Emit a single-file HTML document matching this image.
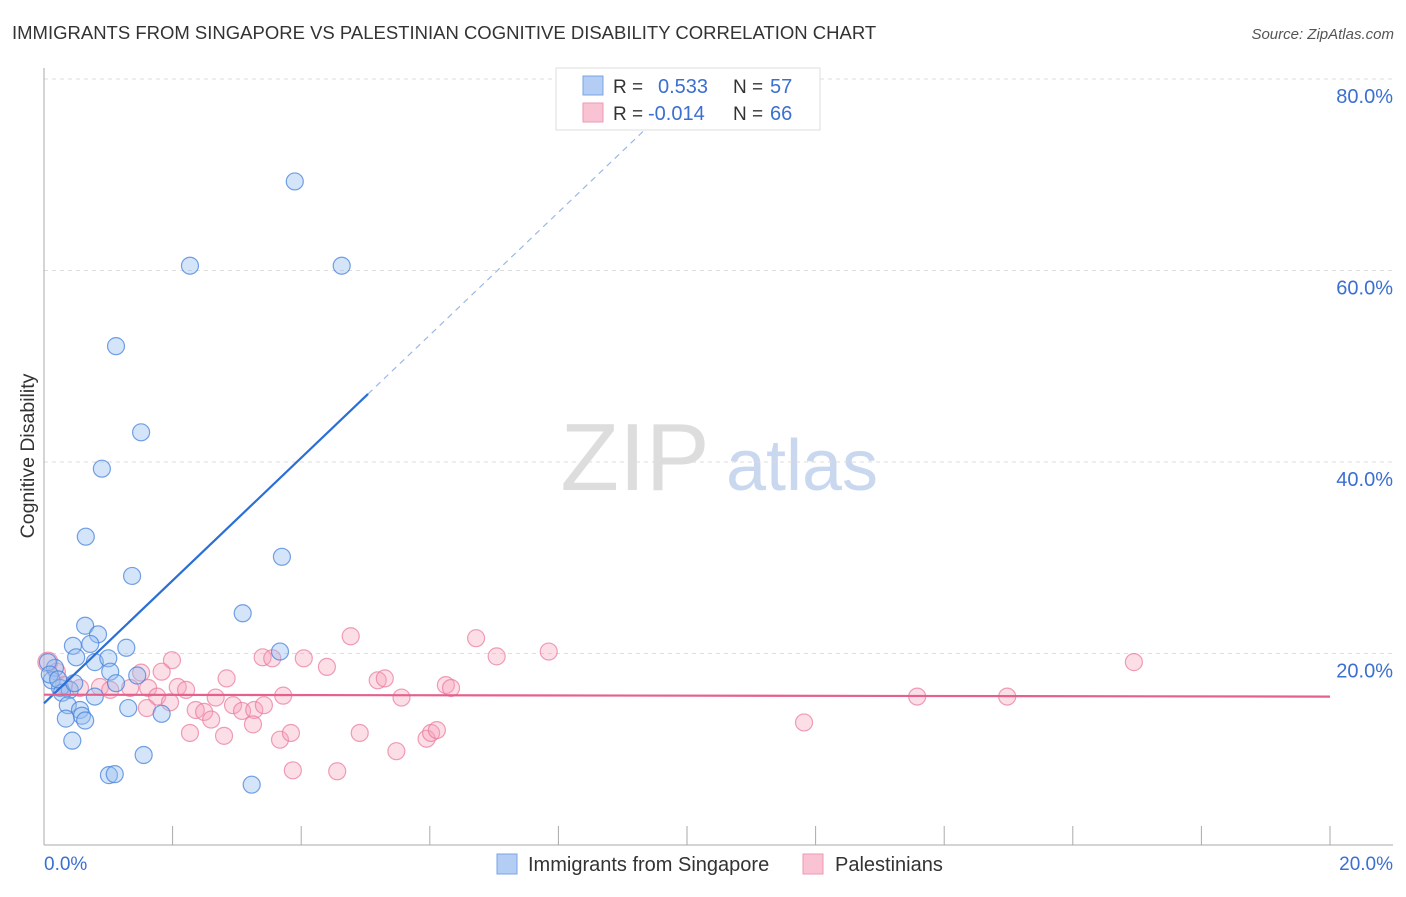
<!DOCTYPE html>
<html><head><meta charset="utf-8"><style>
body{margin:0;background:#fff;font-family:"Liberation Sans",sans-serif;}
svg text{font-family:"Liberation Sans",sans-serif;}
</style></head><body>
<svg id="chart" width="1406" height="892" xmlns="http://www.w3.org/2000/svg">
<text x="12" y="39" font-size="18.5" fill="#333">IMMIGRANTS FROM SINGAPORE VS PALESTINIAN COGNITIVE DISABILITY CORRELATION CHART</text>
<text x="1394" y="39" font-size="15" fill="#555" text-anchor="end" font-style="italic">Source: ZipAtlas.com</text>
<text transform="translate(34,456) rotate(-90)" font-size="19.5" fill="#333" text-anchor="middle">Cognitive Disability</text>
<g>
<text x="635" y="490" font-size="96" fill="#ddd" text-anchor="middle" font-family="Liberation Serif,serif">ZIP</text>
<text x="802" y="490" font-size="72" fill="#c9d8ef" text-anchor="middle">atlas</text>
</g>
<g id="grid"></g><g id="axes"></g><g id="marks"></g>
<g>
<rect x="556" y="68" width="264" height="62" fill="#fff" stroke="#ddd"/>
<rect x="583" y="76" width="20" height="19" fill="#b3cdf4" stroke="#7aa4e4"/>
<rect x="583" y="103" width="20" height="19" fill="#f9c3d3" stroke="#ee9ab3"/>
<text x="613" y="93" font-size="19" fill="#333">R = </text><text x="658" y="93" font-size="20" fill="#3b6fd0">0.533</text>
<text x="733" y="93" font-size="19" fill="#333">N = </text><text x="770" y="93" font-size="20" fill="#3b6fd0">57</text>
<text x="613" y="120" font-size="19" fill="#333">R = </text><text x="648" y="120" font-size="20" fill="#3b6fd0">-0.014</text>
<text x="733" y="120" font-size="19" fill="#333">N = </text><text x="770" y="120" font-size="20" fill="#3b6fd0">66</text>
</g>
<g>
<rect x="497" y="854" width="20" height="20" fill="#b3cdf4" stroke="#7aa4e4"/>
<text x="528" y="871" font-size="20" fill="#333">Immigrants from Singapore</text>
<rect x="803" y="854" width="20" height="20" fill="#f9c3d3" stroke="#ee9ab3"/>
<text x="835" y="871" font-size="20" fill="#333">Palestinians</text>
</g>
</svg>
<script>
const xTicks=[0,2,4,6,8,10,12,14,16,18,20];
const yTicks=[20,40,60,80];
const blueX=[3.90,2.27,4.63,1.12,1.51,0.90,0.65,1.37,3.70,3.09,3.67,0.64,0.84,0.45,0.72,1.28,0.50,0.79,1.00,1.03,1.45,1.12,0.17,0.12,0.25,0.40,0.28,0.79,0.37,0.56,1.31,1.83,0.34,0.59,0.64,0.44,1.01,1.10,1.55,3.23,0.06,0.09,0.22,0.47];
const blueY=[69.3,60.5,60.5,52.1,43.1,39.3,32.2,28.1,30.1,24.2,20.2,22.9,22.0,20.8,21.0,20.6,19.6,19.1,19.5,18.1,17.7,16.9,18.5,17.2,16.4,16.2,15.9,15.5,14.6,14.1,14.3,13.7,13.2,13.5,13.0,10.9,7.3,7.4,9.4,6.3,19.1,17.8,17.3,16.9];
const pinkX=[0.06,0.20,0.31,0.56,0.87,1.03,1.34,1.51,1.62,1.99,1.83,2.08,2.21,1.76,1.96,1.60,2.67,2.84,2.36,2.49,2.60,2.27,2.80,2.94,3.08,3.27,3.42,3.25,3.40,3.55,3.72,3.67,3.84,3.87,4.04,4.40,4.77,4.56,4.91,5.19,5.30,5.56,5.48,5.95,6.02,6.11,6.25,6.33,6.72,7.04,7.85,11.82,13.58,14.98,16.95];
const pinkY=[19.1,18.1,16.7,16.4,16.5,16.2,16.4,18.0,16.4,19.3,18.1,16.5,16.2,15.5,14.9,14.3,15.4,17.4,14.1,13.9,13.1,11.7,11.4,14.6,14.0,14.1,14.6,12.6,19.6,19.5,15.6,11.0,11.7,7.8,19.5,18.6,21.8,7.7,11.7,17.2,17.4,15.4,9.8,11.1,11.7,12.0,16.7,16.4,21.6,19.7,20.2,12.8,15.5,15.5,19.1];
const blueFit=[14.8,6.41];   // intercept, slope
const pinkFit=[15.7,-0.01];
const X=v=>44+v/20*1286, Y=v=>845-v/20*191.5;
const NS="http://www.w3.org/2000/svg";
function mk(p,t,a){const e=document.createElementNS(NS,t);for(const k in a)e.setAttribute(k,a[k]);p.appendChild(e);return e;}
const grid=document.getElementById('grid'),axes=document.getElementById('axes'),marks=document.getElementById('marks');
yTicks.forEach(t=>{
 const l=mk(grid,'line',{x1:44,x2:1393,y1:Y(t),y2:Y(t),stroke:'#ddd','stroke-dasharray':'4,4'});
 
 
 const tx=mk(axes,'text',{x:1393,y:Y(t)+24,'font-size':20,fill:'#3b6fd0','text-anchor':'end'});tx.textContent=t.toFixed(1)+'%';
 
 
});
const al=mk(axes,'line',{x1:44,x2:44,y1:68,y2:845,stroke:'#aaa'});


const bl=mk(axes,'line',{x1:44,x2:1393,y1:845,y2:845,stroke:'#aaa'});


xTicks.forEach(t=>{
 const l=mk(axes,'line',{x1:X(t),x2:X(t),y1:826,y2:845,stroke:'#aaa'});
 
 
});
[[0,'start','0.0%',44],[20,'end','20.0%',1393]].forEach(a=>{
 const tx=mk(axes,'text',{x:a[3],y:870,'font-size':19,fill:'#3b6fd0','text-anchor':a[1]});tx.textContent=a[2];
 
 
});
pinkX.forEach((x,i)=>{
 const c=mk(marks,'circle',{cx:X(x),cy:Y(pinkY[i]),r:i==0?10:8.5,fill:'rgba(245,160,186,0.35)',stroke:'rgba(232,120,155,0.7)','stroke-width':1.2});
 
 
});
blueX.forEach((x,i)=>{
 const c=mk(marks,'circle',{cx:X(x),cy:Y(blueY[i]),r:8.5,fill:'rgba(150,190,240,0.4)',stroke:'rgba(70,130,220,0.75)','stroke-width':1.2});
 
 
});
const bEnd=5.04, bDash=9.4;
const b1=mk(marks,'line',{x1:X(0),y1:Y(blueFit[0]),x2:X(bEnd),y2:Y(blueFit[0]+blueFit[1]*bEnd),stroke:'#2a6fd6','stroke-width':2.2});


const b2=mk(marks,'line',{x1:X(bEnd),y1:Y(blueFit[0]+blueFit[1]*bEnd),x2:X(bDash),y2:Y(blueFit[0]+blueFit[1]*bDash),stroke:'#9ab8e6','stroke-width':1.2,'stroke-dasharray':'6,5'});


const p1=mk(marks,'line',{x1:X(0),y1:Y(pinkFit[0]),x2:X(20),y2:Y(pinkFit[0]+pinkFit[1]*20),stroke:'#e5608c','stroke-width':2.2});


</script>
</body></html>
